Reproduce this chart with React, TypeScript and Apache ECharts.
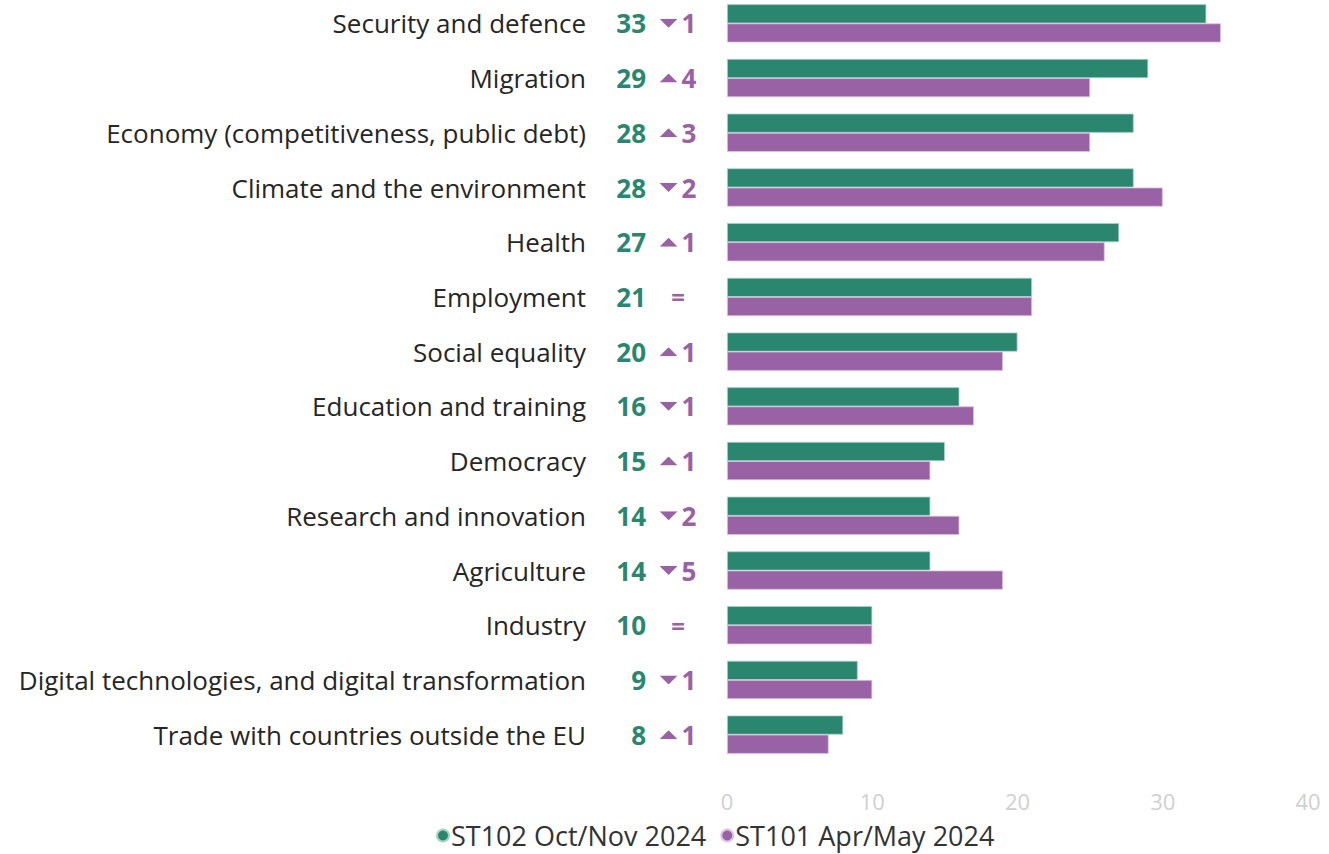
import React, { useEffect, useRef } from "react";
import * as echarts from "echarts";

const categories = [
  "Security and defence",
  "Migration",
  "Economy (competitiveness, public debt)",
  "Climate and the environment",
  "Health",
  "Employment",
  "Social equality",
  "Education and training",
  "Democracy",
  "Research and innovation",
  "Agriculture",
  "Industry",
  "Digital technologies, and digital transformation",
  "Trade with countries outside the EU",
];
const current = [33, 29, 28, 28, 27, 21, 20, 16, 15, 14, 14, 10, 9, 8];
const previous = [34, 25, 25, 30, 26, 21, 19, 17, 14, 16, 19, 10, 10, 7];
const seriesNames = ["ST102 Oct/Nov 2024", "ST101 Apr/May 2024"];
const xTicks = [0, 10, 20, 30, 40];

const GREEN = "#2a866f";
const PURPLE = "#9862a4";
const FONT = "Open Sans";

const triSvg = (pts: string) =>
  "data:image/svg+xml;charset=utf-8," +
  encodeURIComponent(
    `<svg xmlns="http://www.w3.org/2000/svg" width="18" height="9" viewBox="0 0 18 9"><polygon points="${pts}" fill="${PURPLE}"/></svg>`
  );
const TRI_DOWN = triSvg("0,0 18,0 9,9");
const TRI_UP = triSvg("0,9 18,9 9,0");

export default function App() {
  const ref = useRef<HTMLDivElement>(null);
  useEffect(() => {
    if (!ref.current) return;
    const chart = echarts.init(ref.current, undefined, { renderer: "svg" });
    const baseY = {
      type: "category",
      data: categories,
      inverse: true,
      position: "left",
      axisLine: { show: false },
      axisTick: { show: false },
      splitLine: { show: false },
    };
    chart.setOption({
      animation: false,
      textStyle: { fontFamily: FONT },
      grid: { left: 727, right: 21, top: 0, height: 766, containLabel: false },
      legend: {
        data: seriesNames,
        bottom: 0,
        left: 431,
        icon: "circle",
        itemWidth: 12,
        itemHeight: 12,
        itemGap: 14,
        textStyle: { fontSize: 27, color: "#333", fontFamily: FONT, padding: [0, 0, 0, -3] },
      },
      xAxis: {
        type: "value",
        min: xTicks[0],
        max: xTicks[xTicks.length - 1],
        interval: 10,
        splitLine: { show: false },
        axisLine: { show: false },
        axisTick: { show: false },
        axisLabel: { color: "#d0d0d0", fontSize: 22, margin: 28, fontFamily: FONT },
      },
      yAxis: [
        {
          ...baseY,
          axisLabel: { margin: 141, fontSize: 26, color: "#262626", fontFamily: FONT },
        },
        {
          ...baseY,
          axisLabel: {
            margin: 81,
            fontSize: 26,
            fontWeight: "bold",
            color: GREEN,
            fontFamily: FONT,
            formatter: (_v: string, i: number) => String(current[i]),
          },
        },
        {
          ...baseY,
          axisLabel: {
            margin: 49,
            align: "center",
            formatter: (_v: string, i: number) => {
              const d = current[i] - previous[i];
              if (d === 0) return "{eq|=}";
              return `{${d > 0 ? "up" : "down"}| }{num|${Math.abs(d)}}`;
            },
            rich: {
              eq: { fontSize: 24, fontWeight: "bold", color: PURPLE, fontFamily: FONT },
              num: { fontSize: 26, fontWeight: "bold", color: PURPLE, fontFamily: FONT, padding: [0, 0, 0, 4] },
              up: { width: 18, height: 9, fontSize: 8, backgroundColor: { image: TRI_UP } },
              down: { width: 18, height: 9, fontSize: 8, backgroundColor: { image: TRI_DOWN } },
            },
          },
        },
      ],
      series: [
        {
          name: seriesNames[0],
          type: "bar",
          data: current,
          barGap: "0%",
          barCategoryGap: "30%",
          itemStyle: { color: GREEN, borderColor: "#a9d2c6", borderWidth: 0.8 },
        },
        {
          name: seriesNames[1],
          type: "bar",
          data: previous,
          itemStyle: { color: PURPLE, borderColor: "#dcc3e1", borderWidth: 0.8 },
        },
      ],
    });
    return () => chart.dispose();
  }, []);
  return (
    <div
      ref={ref}
      style={{ position: "fixed", left: 0, top: -4, width: 1329, height: 858, background: "#fff" }}
    />
  );
}
